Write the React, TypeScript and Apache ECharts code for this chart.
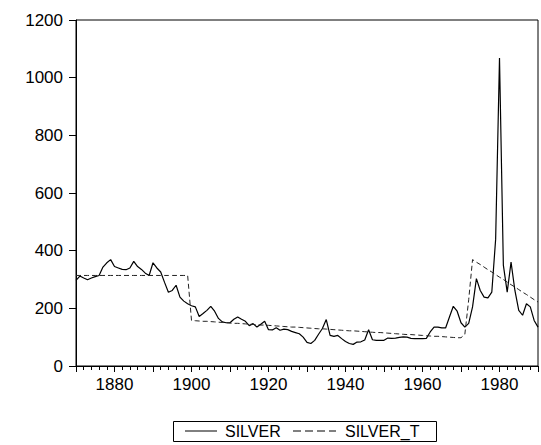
import React, { useEffect, useRef } from "react";
import * as echarts from "echarts";

const startYear = 1870;
const silver = [
  297, 312, 305, 299, 305, 310, 314, 343, 358, 369,
  345, 340, 335, 334, 340, 363, 345, 335, 322, 314,
  358, 340, 326, 290, 256, 262, 280, 239, 225, 216,
  209, 205, 172, 182, 193, 207, 190, 165, 153, 150,
  150, 162, 170, 162, 155, 140, 147, 135, 145, 155,
  126, 125, 133, 124, 128, 126, 120, 116, 112, 100,
  82, 78, 89, 110, 130, 161, 106, 103, 106, 95,
  85, 78, 75, 83, 84, 90, 126, 91, 89, 89,
  89, 97, 96, 97, 99, 101, 100, 96, 95, 95,
  95, 96, 118, 135, 135, 132, 132, 170, 207, 190,
  150, 135, 148, 205, 303, 262, 239, 236, 256, 440,
  1068, 350, 256, 360, 262, 193, 176, 216, 205, 158,
  135,
];
const silverT = [
  314, 314, 314, 314, 314, 314, 314, 314, 314, 314,
  314, 314, 314, 314, 314, 314, 314, 314, 314, 314,
  314, 314, 314, 314, 314, 314, 314, 314, 314, 314,
  158, 157, 156, 155, 155, 154, 153, 152, 151, 150,
  149, 148, 148, 147, 146, 145, 144, 143, 142, 142,
  141, 140, 139, 138, 137, 136, 135, 135, 134, 133,
  132, 131, 130, 129, 129, 128, 127, 126, 125, 124,
  123, 122, 122, 121, 120, 119, 118, 117, 116, 116,
  115, 114, 113, 112, 111, 110, 109, 109, 108, 107,
  106, 105, 104, 103, 103, 102, 101, 100, 99, 98,
  98, 110, 230, 369, 360, 352, 343, 334, 326, 317,
  308, 300, 291, 282, 274, 265, 256, 248, 239, 230,
  222,
];
const seriesNames = ["SILVER", "SILVER_T"];
const yTicks = [0, 200, 400, 600, 800, 1000, 1200];

export default function App() {
  const ref = useRef<HTMLDivElement>(null);
  useEffect(() => {
    if (!ref.current) return;
    const chart = echarts.init(ref.current, undefined, { renderer: "svg" });
    const toPairs = (arr: number[]) => arr.map((v, i) => [startYear + i, v]);
    const font = "'Liberation Sans', Arial, sans-serif";
    const ly = 431;
    chart.setOption({
      animation: false,
      backgroundColor: "#fff",
      grid: {
        left: 76,
        right: 3,
        top: 20,
        bottom: 79,
        show: true,
        borderColor: "#000",
        borderWidth: 1,
      },
      graphic: [
        {
          type: "rect",
          shape: { x: 173.5, y: 421.5, width: 263, height: 20 },
          style: { fill: "#fff", stroke: "#000", lineWidth: 1 },
        },
        {
          type: "line",
          shape: { x1: 185, y1: ly, x2: 217, y2: ly },
          style: { stroke: "#000", lineWidth: 1 },
        },
        {
          type: "text",
          x: 225,
          y: ly,
          style: {
            text: seriesNames[0],
            font: `16px ${font}`,
            fill: "#000",
            verticalAlign: "middle",
          },
        },
        {
          type: "line",
          shape: { x1: 293, y1: ly, x2: 336, y2: ly },
          style: { stroke: "#000", lineWidth: 1, lineDash: [8, 4] },
        },
        {
          type: "text",
          x: 345,
          y: ly,
          style: {
            text: seriesNames[1],
            font: `16px ${font}`,
            fill: "#000",
            verticalAlign: "middle",
          },
        },
      ],
      xAxis: {
        type: "value",
        min: 1870,
        max: 1990,
        interval: 10,
        axisLine: { show: true, lineStyle: { color: "#000", width: 1 } },
        axisTick: { show: true, length: 6, lineStyle: { color: "#000" } },
        minorTick: { show: true, splitNumber: 5, length: 4, lineStyle: { color: "#000" } },
        splitLine: { show: false },
        minorSplitLine: { show: false },
        axisLabel: {
          margin: 10,
          fontFamily: font,
          fontSize: 17,
          color: "#000",
          formatter: (v: number) => (v % 20 === 0 && v > 1870 && v < 1990 ? String(v) : ""),
        },
      },
      yAxis: {
        type: "value",
        min: yTicks[0],
        max: yTicks[yTicks.length - 1],
        interval: 200,
        axisLine: { show: true, lineStyle: { color: "#000", width: 1 } },
        axisTick: { show: true, length: 7, lineStyle: { color: "#000" } },
        splitLine: { show: false },
        axisLabel: {
          margin: 13,
          fontFamily: font,
          fontSize: 17,
          color: "#000",
          formatter: (v: number) => String(v),
        },
      },
      series: [
        {
          name: seriesNames[0],
          type: "line",
          data: toPairs(silver),
          symbol: "none",
          lineStyle: { color: "#000", width: 1.2 },
          itemStyle: { color: "#000" },
        },
        {
          name: seriesNames[1],
          type: "line",
          data: toPairs(silverT),
          symbol: "none",
          lineStyle: { color: "#222", width: 1, type: [5, 3] },
          itemStyle: { color: "#222" },
        },
      ],
    });
    return () => chart.dispose();
  }, []);
  return (
    <div
      ref={ref}
      style={{ position: "fixed", left: 0, top: 0, width: 541, height: 445 }}
    />
  );
}
